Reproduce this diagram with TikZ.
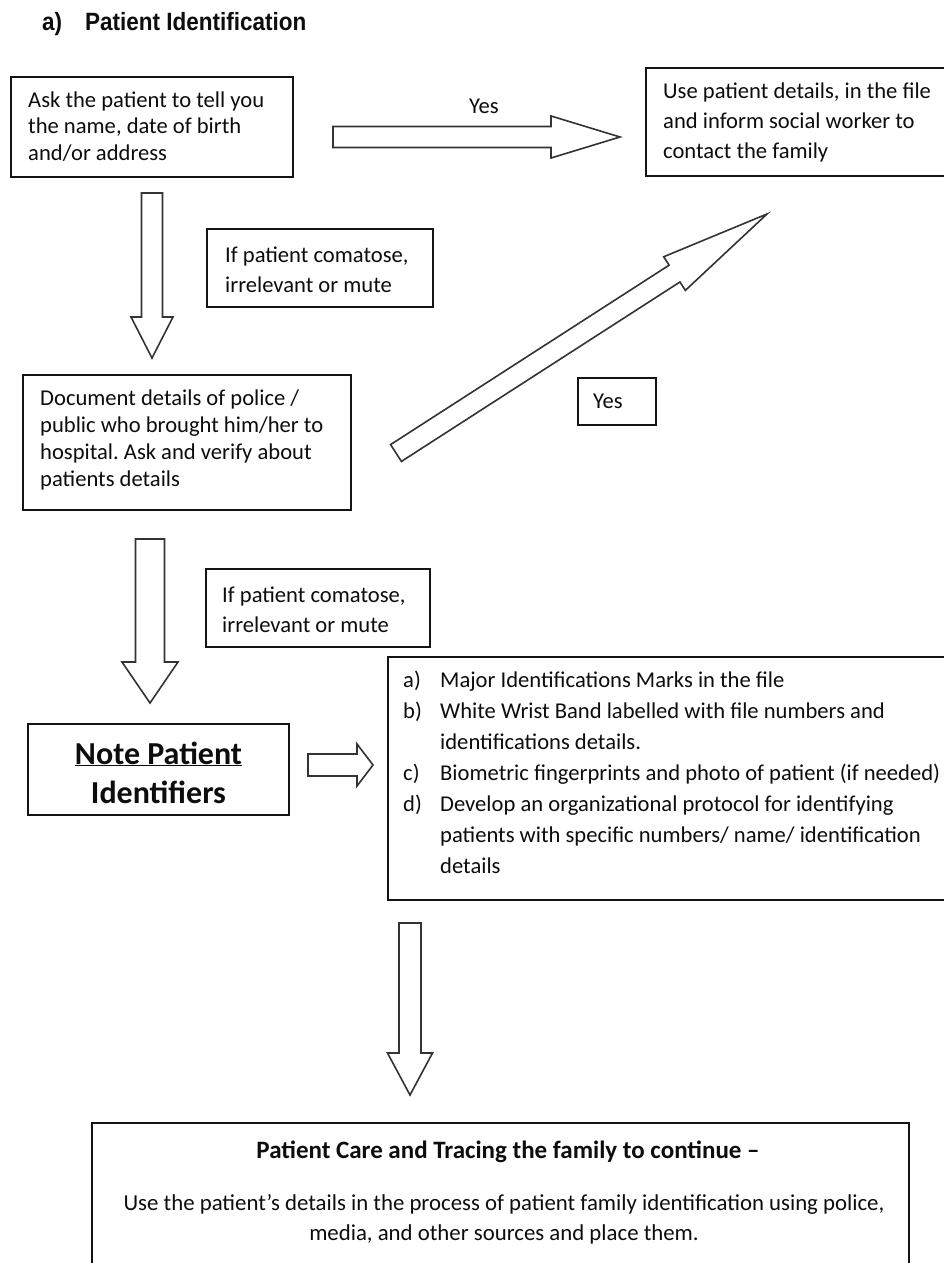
\documentclass[tikz,border=0pt]{standalone}
\usepackage{fontspec}
\setmainfont{Carlito}
\newfontfamily\titlefont[FakeStretch=0.9]{Liberation Sans}
\usetikzlibrary{calc,fit}
\frenchspacing

\newcommand{\tlines}[1]{\begin{tabular}[t]{@{}l@{}}#1\end{tabular}}
\newcommand{\clines}[1]{\begin{tabular}[t]{@{}c@{}}#1\end{tabular}}

% block arrow: #1 start, #2 tip, #3 shaft half width, #4 head half width, #5 head length
\newcommand{\blockarrow}[5]{%
  \coordinate (bab) at ($(#2)!#5!(#1)$);
  \draw[arrowline] ($(#1)!#3!90:(#2)$) -- ($(bab)!#3!-90:(#1)$) -- ($(bab)!#4!-90:(#1)$)
    -- (#2) -- ($(bab)!#4!90:(#1)$) -- ($(bab)!#3!90:(#1)$) -- ($(#1)!#3!-90:(#2)$) -- cycle;}

\tikzset{
  box/.style={draw=black!92, line width=2pt, rectangle, inner sep=0pt},
  txt/.style={anchor=base west, inner sep=0pt, text=black!95},
  arrowline/.style={draw=black!80, line width=1.6pt, line join=miter, fill=white},
}

\begin{document}
\begin{tikzpicture}[x=1pt,y=-1pt]
\useasboundingbox (0,0) rectangle (944,1263);
\clip (0,0) rectangle (944,1263);
\fill[white] (0,0) rectangle (944,1263);

% title
\node[txt, font=\titlefont\bfseries\fontsize{25}{29}\selectfont] (title) at (42,31)
  {\makebox[43pt][l]{a)}Patient Identification};

% box 1
\node[box, fit={(11,77) (293,177)}] (b1) {};
\node[txt, font=\fontsize{22.6}{26.5}\selectfont] (b1t) at (28,107)
  {\tlines{Ask the patient to tell you\\ the name, date of birth\\ and/or address}};

% box 2
\node[box, fit={(646,68) (970,176)}] (b2) {};
\node[txt, font=\fontsize{22.6}{29.5}\selectfont] (b2t) at (663,99)
  {\tlines{Use patient details, in the file\\ and inform social worker to\\ contact the family}};

% Yes (top)
\node[txt, font=\fontsize{22.6}{26}\selectfont] (yes1) at (469,113) {Yes};

% condition box 1
\node[box, fit={(207,229) (433,307)}] (c1) {};
\node[txt, font=\fontsize{22.6}{30}\selectfont] (c1t) at (225,262)
  {\tlines{If patient comatose,\\ irrelevant or mute}};

% box 3
\node[box, fit={(23,375) (351,510)}] (b3) {};
\node[txt, font=\fontsize{22.6}{27.3}\selectfont] (b3t) at (40,405)
  {\tlines{Document details of police /\\ public who brought him/her to\\ hospital. Ask and verify about\\ patients details}};

% Yes box
\node[box, fit={(578,378) (656,425)}] (yb) {};
\node[txt, font=\fontsize{22.6}{26}\selectfont] (ybt) at (593,408) {Yes};

% condition box 2
\node[box, fit={(206,569) (430,647)}] (c2) {};
\node[txt, font=\fontsize{22.6}{30}\selectfont] (c2t) at (222,602)
  {\tlines{If patient comatose,\\ irrelevant or mute}};

% note box
\node[box, fit={(28,724) (289,815)}] (nb) {};
\node[anchor=base, inner sep=0pt, text=black!95, font=\bfseries\fontsize{32}{39}\selectfont] (nbt) at (158.5,764)
  {\clines{\underline{Note Patient}\\ Identifiers}};

% list box
\node[box, fit={(388,657) (970,900)}] (lb) {};
\node[txt, font=\fontsize{22.6}{31}\selectfont] (lbt) at (403,687)
  {\begin{tabular}[t]{@{}p{37pt}@{}l@{}}
   a) & Major Identifications Marks in the file\\
   b) & White Wrist Band labelled with file numbers and\\
      & identifications details.\\
   c) & Biometric fingerprints and photo of patient (if needed)\\
   d) & Develop an organizational protocol for identifying\\
      & patients with specific numbers/ name/ identification\\
      & details
   \end{tabular}};

% bottom box
\node[box, fit={(92,1123) (909,1300)}] (bb) {};
\node[anchor=base, inner sep=0pt, text=black!95, font=\bfseries\fontsize{25}{29}\selectfont] (bbh) at (508,1158)
  {Patient Care and Tracing the family to continue --};
\node[anchor=base, inner sep=0pt, text=black!95, font=\fontsize{22.8}{30}\selectfont] (bbt) at (504,1210)
  {\clines{Use the patient’s details in the process of patient family identification using police,\\ media, and other sources and place them.}};

% arrow end points
\coordinate (ay1) at (333,137);  \coordinate (ay2) at (620,137);
\coordinate (ad1s) at (152,193); \coordinate (ad1e) at (152,358);
\coordinate (ags) at (396,453);  \coordinate (age) at (767,214);
\coordinate (ad2s) at (150,539); \coordinate (ad2e) at (150,703);
\coordinate (ass) at (308,765);  \coordinate (ase) at (373,765);
\coordinate (ad3s) at (410,923); \coordinate (ad3e) at (410,1095);

\blockarrow{ay1}{ay2}{10.5pt}{21pt}{69pt}
\blockarrow{ad1s}{ad1e}{10.5pt}{21pt}{41pt}
\blockarrow{ags}{age}{10pt}{20pt}{110pt}
\blockarrow{ad2s}{ad2e}{14.5pt}{28pt}{41pt}
\blockarrow{ass}{ase}{11pt}{21pt}{16pt}
\blockarrow{ad3s}{ad3e}{11pt}{22.5pt}{42pt}
\end{tikzpicture}
\end{document}
